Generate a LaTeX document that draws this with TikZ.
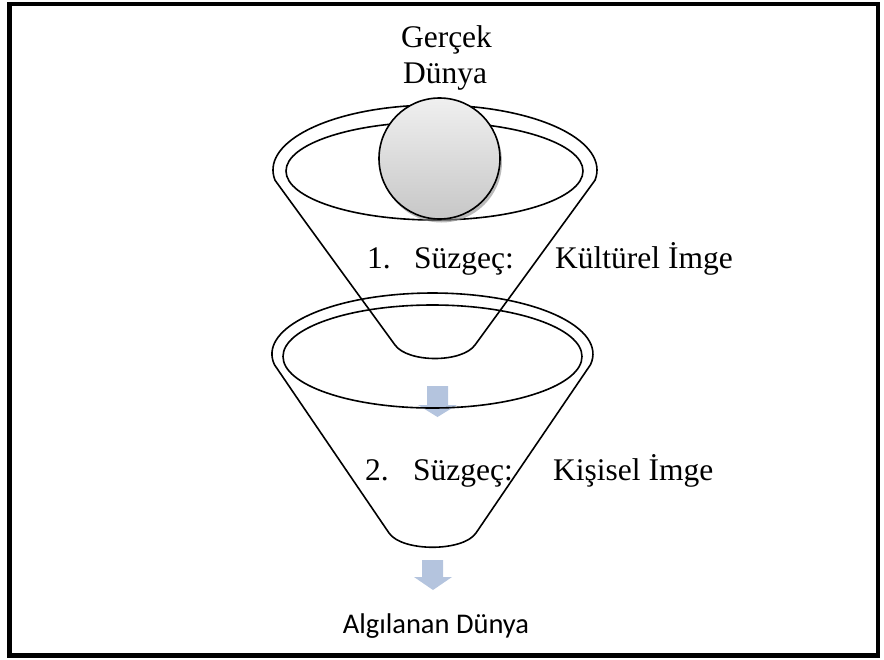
\documentclass[tikz,border=0pt]{standalone}
\usepackage{fontspec}
\setmainfont{Liberation Serif}
\newfontfamily\calibri{Carlito}
\usepackage{xcolor}
\usepackage{tikz}
\usetikzlibrary{positioning}

\definecolor{arrowblue}{RGB}{180,196,222}

\begin{document}
\begin{tikzpicture}[x=1pt, y=-1pt,
			rim/.style={draw, line width=1.6pt},
			blockarrow/.style={fill=arrowblue},
			label/.style={inner sep=0pt, font=\fontsize{31.5}{37}\selectfont},
			sanslabel/.style={inner sep=0pt, font=\calibri\fontsize{28.5}{34}\selectfont}]
			
			\useasboundingbox (0,0) rectangle (884,659);
			\draw[line width=4.5pt] (9.5,4) rectangle (878,655.5);
			
			% arrows between the filters
			\fill[blockarrow] (427,386) -- (448,386) -- (448,405) -- (457,405) -- (437.5,417) -- (418,405) -- (427,405) -- cycle;
			\fill[blockarrow] (422,560) -- (443,560) -- (443,577) -- (452,577) -- (433,590) -- (414,577) -- (422,577) -- cycle;
			
			% first filter
			\draw[rim] (275,180.2) arc[start angle=171, end angle=369, x radius=162, y radius=65]
				-- (475,345) .. controls (462,363) and (408,363) .. (395,345) -- cycle;
			\draw[rim] (434.5,171) ellipse[x radius=148.5, y radius=49];
			
			% second filter
			\draw[rim] (274.4,364.6) arc[start angle=170, end angle=370, x radius=160.5, y radius=61]
				-- (476,533) .. controls (463,552) and (402,552) .. (389,533) -- cycle;
			\draw[rim] (432.5,356.5) ellipse[x radius=149.5, y radius=51.5];
			
			% real world
			\fill[black!45, opacity=0.6] (441.5,162) circle[radius=60.5];
			\shade[top color=black!6, bottom color=black!22, draw=black, line width=1.6pt] (439.5,158.5) circle[radius=60.5];
			
			\node[label, anchor=base] (gercek) at (446.5,47) {Gerçek};
			\node[label, anchor=base] (dunya) at (445,83) {Dünya};
			
			\node[label, anchor=base west] (num1) at (367,268) {1.};
			\node[label, anchor=base west] (filter1) at (414,268) {Süzgeç:};
			\node[label, anchor=base west] (image1) at (555,268) {Kültürel İmge};
			
			\node[label, anchor=base west] (num2) at (365,480) {2.};
			\node[label, anchor=base west] (filter2) at (413,480) {Süzgeç:};
			\node[label, anchor=base west] (image2) at (553,480) {Kişisel İmge};
			
			\node[sanslabel, anchor=base] (perceived) at (436,633) {Algılanan Dünya};
			
		\end{tikzpicture}
\end{document}
